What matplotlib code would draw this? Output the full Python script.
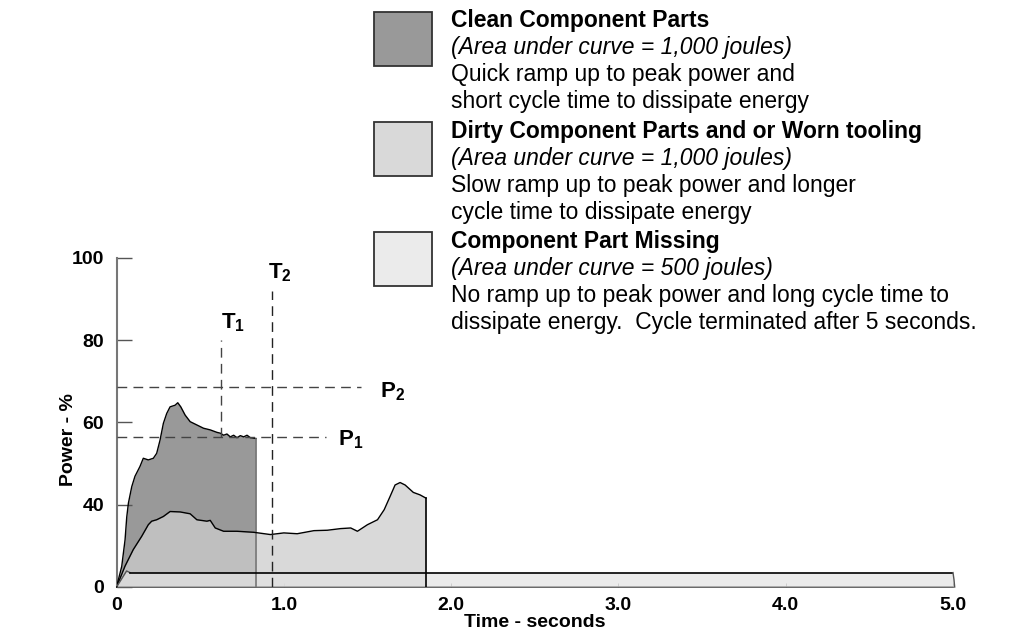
import matplotlib.pyplot as plt
import numpy as np
from matplotlib.patches import Rectangle

plt.rcParams['font.family'] = ['Liberation Sans', 'DejaVu Sans']
plt.rcParams['mathtext.fontset'] = 'custom'
plt.rcParams['mathtext.bf'] = 'Liberation Sans:bold'
plt.rcParams['mathtext.rm'] = 'Liberation Sans'

# clean component parts (time s, power %)
clean_t = [0, 0.031, 0.051, 0.061, 0.071, 0.091, 0.11, 0.14, 0.16, 0.19, 0.22, 0.24,
           0.26, 0.28, 0.30, 0.32, 0.35, 0.366, 0.384, 0.41, 0.44, 0.48, 0.52, 0.56,
           0.60, 0.62, 0.64, 0.66, 0.68, 0.70, 0.72, 0.74, 0.76, 0.78, 0.80, 0.834]
clean_p = [0, 10, 23, 34, 40.4, 44.4, 46.9, 49.3, 51.3, 50.9, 51.3, 52.5,
           55.7, 59.8, 62.2, 63.8, 64.2, 64.8, 63.8, 61.8, 60.2, 59.4, 58.6, 58.2,
           57.6, 57.4, 56.9, 57.2, 56.5, 56.9, 56.3, 56.8, 56.5, 56.9, 56.3, 56.1]

# dirty component parts and/or worn tooling
dirty_t = [0, 0.051, 0.10, 0.15, 0.19, 0.21, 0.24, 0.28, 0.32, 0.38, 0.44, 0.48,
           0.54, 0.56, 0.59, 0.64, 0.72, 0.82, 0.92, 1.0, 1.08, 1.18, 1.26, 1.34,
           1.40, 1.44, 1.50, 1.56, 1.60, 1.635, 1.665, 1.695, 1.725, 1.774, 1.814, 1.85]
dirty_p = [0, 10.2, 18.2, 24.6, 30.3, 32.0, 32.7, 34.3, 36.7, 36.5, 35.6, 32.7,
           32.0, 32.4, 28.7, 27.1, 27.1, 26.6, 25.5, 26.3, 25.9, 27.4, 27.6, 28.4,
           28.7, 27.1, 30.3, 32.7, 37.6, 42.0, 44.8, 45.4, 44.8, 43.0, 42.4, 41.6]

# component part missing
miss_t = [0, 0.06, 0.08, 5.0]
miss_p = [0, 7.8, 7.0, 7.0]

# reference markers
t1, t2 = 0.623, 0.928
p1, p2 = 56.4, 68.6

legend_heads = ['Clean Component Parts',
                'Dirty Component Parts and or Worn tooling',
                'Component Part Missing']
legend_area = ['(Area under curve = 1,000 joules)',
               '(Area under curve = 1,000 joules)',
               '(Area under curve = 500 joules)']
legend_desc = [['Quick ramp up to peak power and', 'short cycle time to dissipate energy'],
               ['Slow ramp up to peak power and longer', 'cycle time to dissipate energy'],
               ['No ramp up to peak power and long cycle time to',
                'dissipate energy.  Cycle terminated after 5 seconds.']]
swatch_colors = ['#999999', '#d9d9d9', '#ebebeb']


def fwd(y):
    y = np.asarray(y, float)
    return np.where(y < 40, 20 + y / 2, y)


def inv(d):
    d = np.asarray(d, float)
    return np.where(d < 40, (d - 20) * 2, d)


fig = plt.figure(figsize=(10.09, 6.43), dpi=100)
ax = fig.add_axes([0.1155, 0.0871, 0.829, 0.5117])
ax.set_yscale('function', functions=(fwd, inv))
ax.set_xlim(0, 5)
ax.set_ylim(0, 100)

# fills
ct = clean_t + [clean_t[-1]]
cp = clean_p + [0]
ax.fill_between(ct, cp, color='#999999', lw=0, zorder=1)
dt = dirty_t + [dirty_t[-1]]
dp = dirty_p + [0]
ax.fill_between(dt, dp, color='#cdcdcd', alpha=0.75, lw=0, zorder=2)
mt = miss_t + [5.006, 5.01]
mp = miss_p + [3.5, 0]
ax.fill_between(mt, mp, color='#e3e3e3', alpha=0.71, lw=0, zorder=3, clip_on=False)

# outlines
ax.plot(clean_t, clean_p, color='black', lw=1, zorder=4)
ax.plot([clean_t[-1], clean_t[-1]], [clean_p[-1], 0], color='#777777', lw=1.2, zorder=4)
ax.plot(dirty_t, dirty_p, color='black', lw=1, zorder=4)
ax.plot([dirty_t[-1], dirty_t[-1]], [dirty_p[-1], 0], color='black', lw=1.2, zorder=4)
ax.plot(miss_t[:3], miss_p[:3], color='#555555', lw=1, zorder=4)
ax.plot(miss_t[2:], miss_p[2:], color='black', lw=1.2, zorder=4)
ax.plot(mt[3:], mp[3:], color='#555555', lw=1, zorder=4, clip_on=False)

# dashed reference lines
dash = (0, (7, 4.5))
ax.plot([0, 1.46], [p2, p2], color='#444444', lw=1, ls=dash, zorder=5)
ax.plot([0, 1.25], [p1, p1], color='#444444', lw=1, ls=dash, zorder=5)
ax.plot([t1, t1], [p1, 80], color='#444444', lw=1, ls=dash, zorder=5)
ax.plot([t2, t2], [0, 92], color='#222222', lw=1, ls=dash, zorder=5)

lab = dict(fontsize=16, fontweight='bold', va='center', ha='left')
ax.text(0.625, 84.3, r'$\mathbf{T_1}$', **lab)
ax.text(0.905, 96.4, r'$\mathbf{T_2}$', **lab)
ax.text(1.575, 67.6, r'$\mathbf{P_2}$', **lab)
ax.text(1.325, 55.8, r'$\mathbf{P_1}$', **lab)

# axes styling
for s in ['top', 'right']:
    ax.spines[s].set_visible(False)
ax.spines['left'].set_color('#777777')
ax.spines['left'].set_linewidth(1.5)
ax.spines['bottom'].set_color('black')
ax.spines['bottom'].set_linewidth(1.2)

ax.set_yticks([0, 40, 60, 80, 100])
ax.set_yticklabels(['0', '40', '60', '80', '100'])
ax.set_xticks([0, 1, 2, 3, 4, 5])
ax.set_xticklabels(['0', '1.0', '2.0', '3.0', '4.0', '5.0'])
ax.tick_params(axis='y', direction='in', length=11, width=1, color='#555555',
               labelsize=14, pad=9)
ax.tick_params(axis='x', direction='in', length=3, width=0.6, color='#888888',
               labelsize=14, pad=7)
for t in ax.get_xticklabels() + ax.get_yticklabels():
    t.set_fontweight('bold')
ax.set_xlabel('Time - seconds', fontsize=14, fontweight='bold', labelpad=0)
ax.set_ylabel('Power - %', fontsize=14, fontweight='bold')
ax.yaxis.set_label_coords(-0.047, 0.447)

# legend drawn as figure text
W, H = 1009, 643
box_tops = [12, 122, 232]
bases = [27, 138, 248]
line_gap = 27
fs = 16.5
for i in range(3):
    y0 = box_tops[i]
    fig.patches.append(Rectangle((374 / W, 1 - (y0 + 54) / H), 58 / W, 54 / H,
                                 transform=fig.transFigure, facecolor=swatch_colors[i],
                                 edgecolor='#333333', lw=1.3))
    base = bases[i]
    fig.text(451 / W, 1 - base / H, legend_heads[i], fontsize=fs, fontweight='bold',
             va='baseline')
    fig.text(451 / W, 1 - (base + line_gap) / H, legend_area[i], fontsize=fs,
             style='italic', va='baseline')
    for j, line in enumerate(legend_desc[i]):
        fig.text(451 / W, 1 - (base + line_gap * (2 + j)) / H, line, fontsize=fs,
                 va='baseline')

fig.savefig('out.png', dpi=100)
